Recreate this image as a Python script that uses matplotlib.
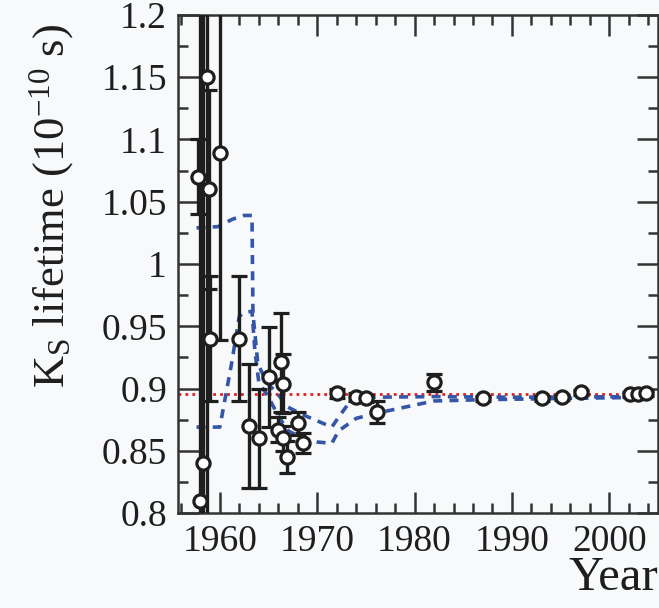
import matplotlib
matplotlib.use("Agg")
import matplotlib.pyplot as plt
from matplotlib.ticker import MultipleLocator, FixedLocator

plt.rcParams['font.family'] = ['Liberation Serif', 'DejaVu Serif']
plt.rcParams['mathtext.fontset'] = 'custom'
plt.rcParams['mathtext.rm'] = 'Liberation Serif'
plt.rcParams['mathtext.it'] = 'Liberation Serif:italic'

# Measurements (year, lifetime, error)
years = [1957.8, 1958.0, 1958.3, 1958.7, 1958.9, 1959.0, 1960.0,
         1962.0, 1963.0, 1964.0, 1965.0, 1966.0, 1966.3, 1966.5, 1966.5,
         1966.9, 1968.0, 1968.5, 1972.0, 1974.0, 1975.0, 1976.1, 1982.0,
         1987.0, 1993.1, 1995.1, 1997.1, 2002.1, 2002.9, 2003.8]
values = [1.070, 0.810, 0.840, 1.150, 1.060, 0.940, 1.089,
          0.940, 0.870, 0.860, 0.909, 0.867, 0.921, 0.904, 0.860,
          0.845, 0.872, 0.856, 0.896, 0.893, 0.892, 0.881, 0.905,
          0.892, 0.892, 0.893, 0.897, 0.8955, 0.8955, 0.896]
errors = [0.030, 0.50, 0.45, 0.45, 0.080, 0.050, 0.150,
          0.050, 0.050, 0.040, 0.040, 0.010, 0.040, 0.024, 0.010,
          0.013, 0.009, 0.008, 0.004, 0.003, 0.003, 0.009, 0.007,
          0.002, 0.002, 0.002, 0.002, 0.002, 0.002, 0.002]

# Running-average band
upper_years = [1957.6, 1959.8, 1961.3, 1962.5, 1963.3, 1963.4, 1963.9, 1964.8,
               1966.0, 1967.0, 1968.5, 1970.0, 1971.5, 1972.2, 1973.6, 1976.0,
               1982.0, 1990.0, 2004.5]
upper_vals = [1.029, 1.030, 1.036, 1.039, 1.039, 0.960, 0.920, 0.905,
              0.895, 0.885, 0.879, 0.874, 0.869, 0.877, 0.892, 0.893,
              0.8935, 0.893, 0.8935]
lower_years = [1957.6, 1960.0, 1961.2, 1962.0, 1962.5, 1963.3, 1963.6, 1964.0,
               1965.0, 1966.0, 1967.0, 1968.5, 1970.0, 1971.5, 1972.2, 1974.0,
               1976.0, 1979.0, 1982.0, 1987.0, 1995.0, 2004.5]
lower_vals = [0.869, 0.869, 0.920, 0.958, 0.961, 0.962, 0.930, 0.905,
              0.893, 0.878, 0.866, 0.860, 0.857, 0.856, 0.866, 0.876,
              0.880, 0.885, 0.890, 0.891, 0.892, 0.893]

world_average = 0.8953

yticks = [0.8, 0.85, 0.9, 0.95, 1.0, 1.05, 1.1, 1.15, 1.2]
ytick_labels = ['0.8', '0.85', '0.9', '0.95', '1', '1.05', '1.1', '1.15', '1.2']
xticks = [1960, 1970, 1980, 1990, 2000]

bg = '#f7f9fa'
ink = '#1e1e1e'
fig = plt.figure(figsize=(6.59, 6.08), dpi=100, facecolor=bg)
ax = fig.add_axes([178/659, 1-513/608, 480/659, 498/608], facecolor=bg)

ax.axhline(world_average, color='#e02020', ls=(0, (1, 1.5)), lw=2, zorder=1)
ax.plot(upper_years, upper_vals, color='#3556a8', ls=(0, (2.5, 2)), lw=2.6, zorder=2)
ax.plot(lower_years, lower_vals, color='#3556a8', ls=(0, (2.5, 2)), lw=2.6, zorder=2)

ax.errorbar(years, values, yerr=errors, fmt='o', ms=9.5, mfc='white', mec=ink,
            mew=2.3, ecolor=ink, elinewidth=2.4, capsize=5.5, capthick=2.2, zorder=3)

ax.set_xlim(1955.7, 2005)
ax.set_ylim(0.8, 1.2)
ax.xaxis.set_major_locator(FixedLocator(xticks))
ax.xaxis.set_minor_locator(MultipleLocator(2))
ax.yaxis.set_major_locator(FixedLocator(yticks))
ax.set_yticklabels(ytick_labels)
ax.yaxis.set_minor_locator(MultipleLocator(0.025))
ax.tick_params(which='both', direction='in', top=True, right=True, colors='#333333',
               labelcolor=ink)
ax.tick_params(which='major', length=15, width=1.8, labelsize=27, pad=8)
ax.tick_params(which='minor', length=7.5, width=1.8)
for s in ax.spines.values():
    s.set_linewidth(1.8)
    s.set_color('#333333')

ax.set_xlabel('Year', loc='right', fontsize=35, labelpad=-2, color=ink)
fig.text(52/659, 1-206/608, r'K$_\mathrm{S}$ lifetime (10$^{\mathrm{-10}}$ s)',
         rotation=90, ha='center', va='center', fontsize=32, color=ink)

fig.savefig('out.png', dpi=100, facecolor=bg)
